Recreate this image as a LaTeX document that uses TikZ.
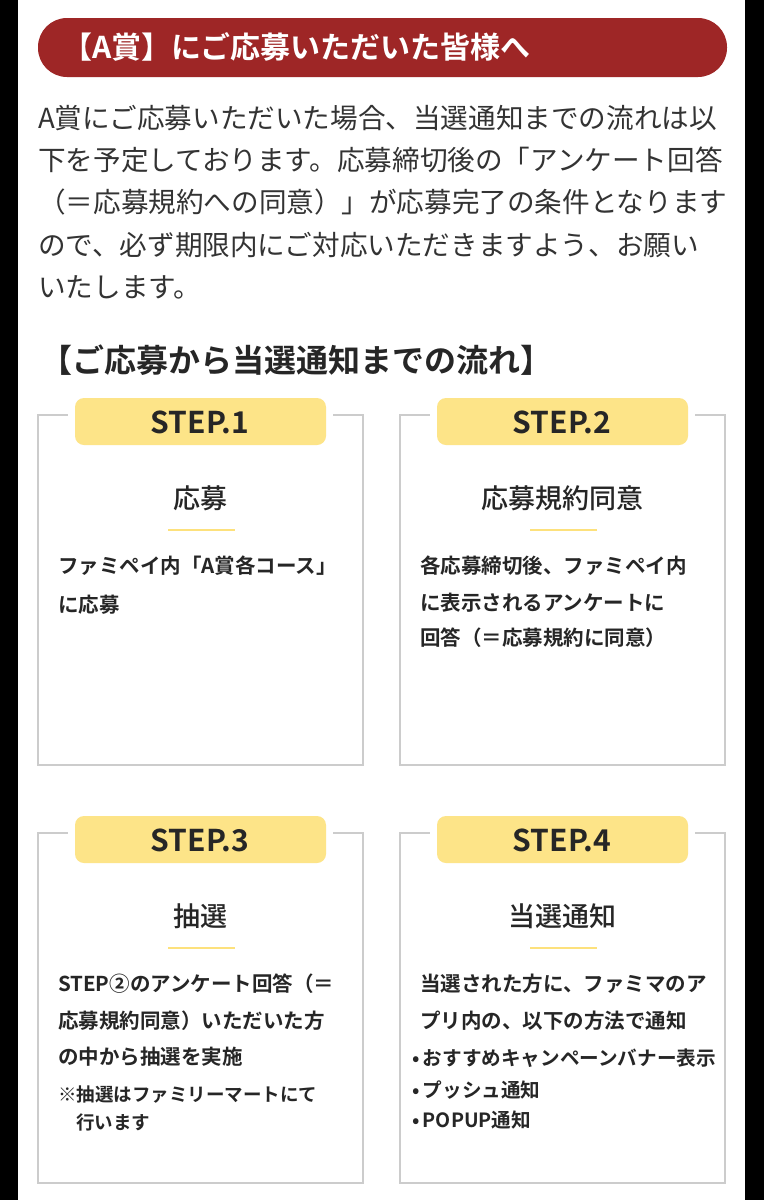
\documentclass[tikz,border=0pt]{standalone}
\usepackage{fontspec}
\setmainfont{Noto Sans CJK JP}
\newfontfamily\jpb{Noto Sans CJK JP Bold}
\newfontfamily\jpm{Noto Sans CJK JP Medium}
\begin{document}
\begin{tikzpicture}[x=1pt,y=-1pt,
  txt/.style={anchor=west,inner sep=0,text=black!80,font=\fontsize{27.6}{27.6}\selectfont},
  bx/.style={draw=black!20,line width=1.2pt},
  tab/.style={fill=yellow!60!orange!45,rounded corners=9pt,draw=none},
  tabt/.style={font=\jpb\fontsize{30}{30}\selectfont,text=black!85},
  ttl/.style={font=\jpm\fontsize{27}{27}\selectfont,text=black!85},
  bd/.style={anchor=west,inner sep=0,font=\jpb\fontsize{20.5}{20.5}\selectfont,text=black!85},
  bl/.style={anchor=west,inner sep=0,font=\jpb\fontsize{19.6}{19.6}\selectfont,text=black!85},
  nt/.style={anchor=west,inner sep=0,font=\jpb\fontsize{18.5}{18.5}\selectfont,text=black!85}]
\useasboundingbox (0,0) rectangle (764,1200);
\fill[white] (0,0) rectangle (764,1200);
\fill[black] (0,0) rectangle (18,1200);
\fill[black] (745,0) rectangle (764,1200);
\fill[red!55!black!85,rounded corners=29pt] (38,18) rectangle (727,77);
\node[anchor=west,inner sep=0,text=white,font=\jpb\fontsize{30}{30}\selectfont] (bn) at (62,47) {【A賞】にご応募いただいた皆様へ};
\node[txt] (p1) at (38,118) {A賞にご応募いただいた場合、当選通知までの流れは以};
\node[txt] (p2) at (38,160) {下を予定しております。応募締切後の「アンケート回答};
\node[txt] (p3) at (38,202) {（＝応募規約への同意）」が応募完了の条件となります};
\node[txt] (p4) at (38,245) {ので、必ず期限内にご対応いただきますよう、お願い};
\node[txt] (p5) at (38,287) {いたします。};
\node[anchor=west,inner sep=0,text=black!85,font=\jpb\fontsize{32}{32}\selectfont] (hd) at (40,360) {【ご応募から当選通知までの流れ】};
% boxes
\foreach \x/\y/\n in {38/415/1,400/415/2,38/833/3,400/833/4}{
  \draw[bx] (\x,\y) rectangle ++(325,350);
  \fill[white] (\x+30,\y-20) rectangle ++(265,40);
  \fill[tab] (\x+37,\y-17) rectangle ++(251,47);
  \node[tabt] (s\n) at (\x+162,\y+7) {STEP.\n};
  \draw[yellow!60!orange!50,line width=1.5pt] (\x+130,\y+115) -- ++(67,0);
}
\node[ttl] (t1) at (200,498) {応募};
\node[ttl] (t2) at (562,498) {応募規約同意};
\node[ttl] (t3) at (200,916) {抽選};
\node[ttl] (t4) at (562,916) {当選通知};
\node[bd] (a1) at (58,566) {ファミペイ内「A賞各コース」};
\node[bd] (a2) at (58,605) {に応募};
\node[bd] (b1) at (420,566) {各応募締切後、ファミペイ内};
\node[bd] (b2) at (420,603) {に表示されるアンケートに};
\node[bd] (b3) at (420,638) {回答（＝応募規約に同意）};
\node[bd] (c1) at (58,984) {STEP②のアンケート回答（＝};
\node[bd] (c2) at (58,1021) {応募規約同意）いただいた方};
\node[bd] (c3) at (58,1057) {の中から抽選を実施};
\node[nt] (c4) at (58,1095) {※抽選はファミリーマートにて};
\node[nt] (c5) at (76,1122) {行います};
\node[bd] (d1) at (420,984) {当選された方に、ファミマのア};
\node[bd] (d2) at (420,1021) {プリ内の、以下の方法で通知};
\node[bl] (d3) at (412,1058) {•\,おすすめキャンペーンバナー表示};
\node[bl] (d4) at (412,1090) {•\,プッシュ通知};
\node[bl] (d5) at (412,1120) {•\,POPUP通知};
\end{tikzpicture}
\end{document}
